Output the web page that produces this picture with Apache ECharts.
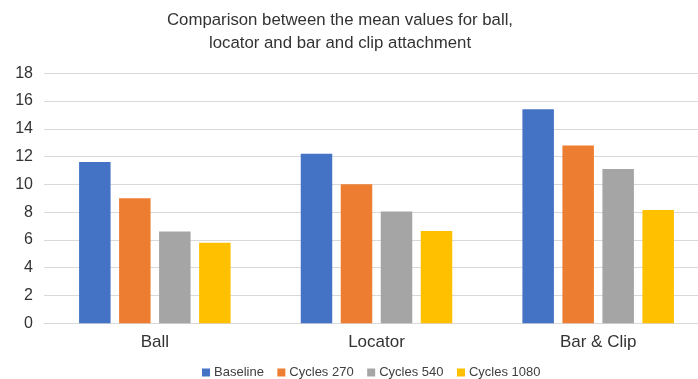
<!DOCTYPE html>
<html>
<head>
<meta charset="utf-8">
<script src="https://cdn.jsdelivr.net/npm/echarts@6/dist/echarts.min.js"></script>
<style>
  html, body { margin: 0; padding: 0; background: #ffffff; overflow: hidden; }
  #chart { width: 709px; height: 379px; }
</style>
</head>
<body>
<div id="chart"></div>
<script>
// Attachment types along the x axis
const categories = ['Ball', 'Locator', 'Bar & Clip'];

// Mean values per loading stage
const baseline = [11.6, 12.2, 15.4];
const cycles270 = [9.0, 10.0, 12.8];
const cycles540 = [6.6, 8.05, 11.1];
const cycles1080 = [5.8, 6.65, 8.15];

const seriesNames = ['Baseline', 'Cycles 270', 'Cycles 540', 'Cycles 1080'];
const yTicks = { min: 0, max: 18, interval: 2 };

const colors = ['#4472c4', '#ed7d31', '#a5a5a5', '#ffc000'];
const font = 'Liberation Sans, Arial, Helvetica, sans-serif';

const chart = echarts.init(document.getElementById('chart'), null, { renderer: 'canvas' });

const seriesData = [baseline, cycles270, cycles540, cycles1080];

chart.setOption({
  animation: false,
  color: colors,
  title: {
    text: 'Comparison between the mean values for ball,\nlocator and bar and clip attachment',
    left: 340,
    top: 9,
    padding: 0,
    textAlign: 'center',
    textStyle: {
      fontFamily: font,
      fontSize: 16.8,
      fontWeight: 'normal',
      color: '#333333',
      lineHeight: 23
    }
  },
  legend: {
    data: seriesNames,
    left: 202,
    top: 366,
    padding: 0,
    itemWidth: 8,
    itemHeight: 8,
    itemGap: 13.5,
    icon: 'rect',
    textStyle: {
      fontFamily: font,
      fontSize: 13,
      color: '#404040',
      padding: [0, 0, 0, -1]
    }
  },
  grid: {
    left: 44,
    top: 73.2,
    right: 0,
    height: 250.1,
    containLabel: false
  },
  xAxis: {
    type: 'category',
    data: categories,
    axisLine: { show: true, lineStyle: { color: '#d9d9d9', width: 1 } },
    axisTick: { show: false },
    axisLabel: {
      fontFamily: font,
      fontSize: 17,
      color: '#333333',
      margin: 11
    }
  },
  yAxis: {
    type: 'value',
    min: yTicks.min,
    max: yTicks.max,
    interval: yTicks.interval,
    axisLine: { show: false },
    axisTick: { show: false },
    splitLine: { show: true, lineStyle: { color: '#d9d9d9', width: 1 } },
    axisLabel: {
      fontFamily: font,
      fontSize: 16,
      color: '#333333',
      margin: 11
    }
  },
  series: seriesNames.map((name, i) => ({
    name: name,
    type: 'bar',
    data: seriesData[i],
    barWidth: 31.5,
    barGap: '27%',
    itemStyle: { color: colors[i] }
  }))
});
</script>
</body>
</html>
